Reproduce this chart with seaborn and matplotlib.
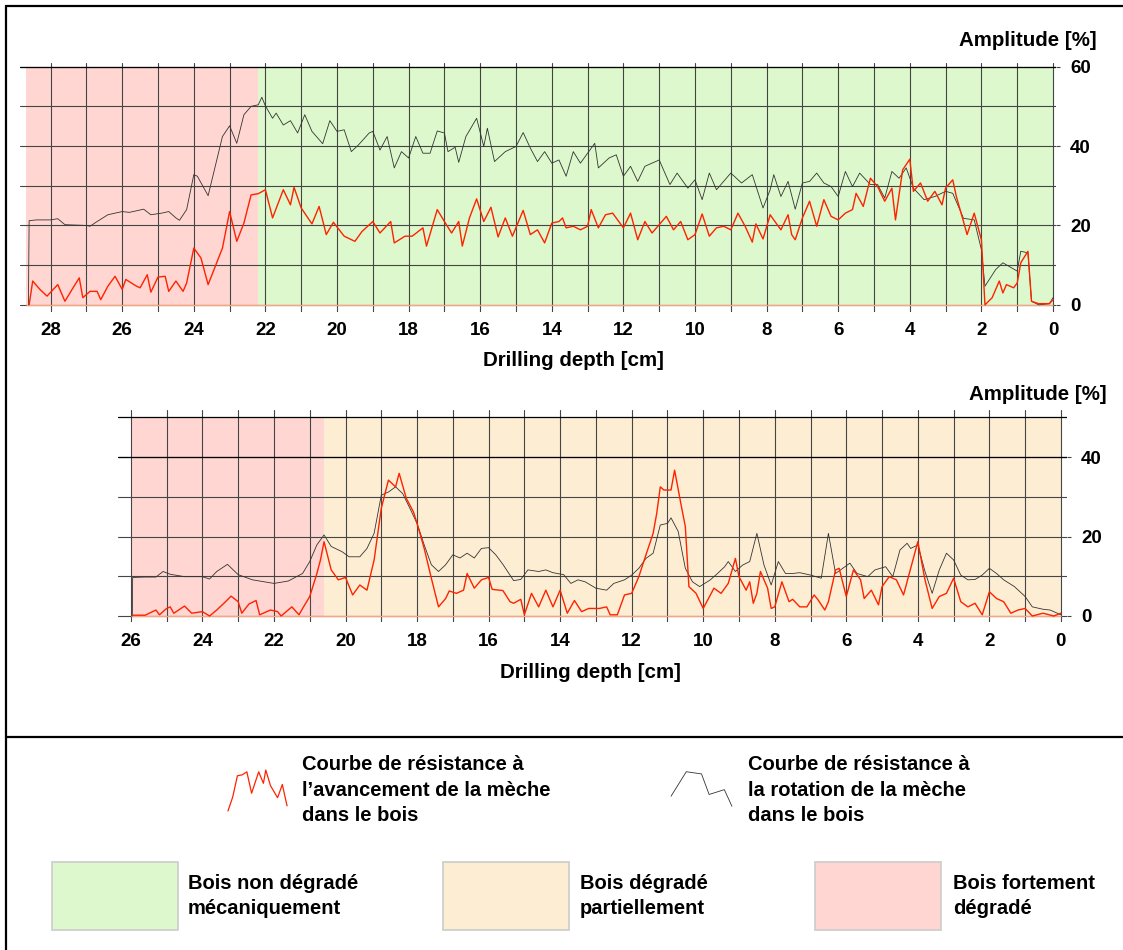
import matplotlib
matplotlib.use("Agg")
import matplotlib.pyplot as plt
import seaborn as sns
import numpy as np
from matplotlib.patches import Rectangle
from matplotlib.lines import Line2D

# ---------------- data ----------------
# Top chart: rotation resistance (black)
top_black_depth = [28.62, 28.6, 28.4, 28.0, 27.8, 27.6, 27.0, 26.9, 26.7, 26.4, 26.0, 25.8, 25.4, 25.2,
                   24.9, 24.7, 24.5, 24.4, 24.2, 24.0, 23.9, 23.6, 23.4, 23.2, 23.0, 22.8, 22.6, 22.4,
                   22.2, 22.1, 22.0, 21.8, 21.7, 21.5, 21.3, 21.1, 20.9, 20.7, 20.4, 20.2, 20.0, 19.8,
                   19.6, 19.4, 19.1, 19.0, 18.8, 18.6, 18.4, 18.2, 18.0, 17.8, 17.6, 17.4, 17.2, 17.0,
                   16.9, 16.7, 16.6, 16.4, 16.1, 15.9, 15.8, 15.6, 15.3, 15.0, 14.8, 14.6, 14.4, 14.2,
                   14.0, 13.8, 13.6, 13.4, 13.2, 12.8, 12.7, 12.4, 12.2, 12.0, 11.8, 11.6, 11.4, 11.0,
                   10.7, 10.5, 10.2, 10.0, 9.8, 9.6, 9.4, 9.0, 8.7, 8.4, 8.1, 7.9, 7.8, 7.6, 7.4, 7.2,
                   7.0, 6.8, 6.6, 6.4, 6.2, 6.0, 5.8, 5.6, 5.4, 5.1, 4.9, 4.7, 4.5, 4.3, 4.1, 3.9, 3.6,
                   3.3, 3.0, 2.8, 2.5, 2.2, 2.0, 1.9, 1.6, 1.4, 1.0, 0.9, 0.7, 0.6, 0.4, 0.1, 0.0]
top_black_amp = [0.0, 21.2, 21.4, 21.4, 21.7, 20.2, 20.0, 19.8, 21.0, 22.7, 23.5, 23.3, 24.1, 22.7,
                 23.1, 23.5, 21.9, 21.3, 24.0, 32.8, 32.4, 27.5, 34.9, 42.4, 45.1, 40.7, 47.9, 50.0,
                 50.4, 52.3, 50.1, 47.0, 48.3, 45.3, 46.4, 43.3, 47.9, 43.7, 40.6, 46.4, 43.7, 44.1,
                 38.6, 40.3, 43.3, 43.7, 39.0, 42.4, 34.5, 38.6, 37.0, 42.4, 38.2, 38.2, 43.8, 43.3,
                 38.6, 39.7, 35.9, 42.4, 47.0, 39.9, 44.5, 36.1, 38.6, 39.9, 43.4, 39.5, 36.1, 38.6,
                 35.7, 36.5, 32.4, 38.6, 35.7, 40.7, 34.5, 37.0, 37.8, 32.4, 34.9, 31.1, 34.9, 36.5,
                 30.3, 33.2, 29.4, 31.5, 26.5, 33.2, 29.0, 33.2, 30.7, 32.8, 24.4, 29.0, 32.8, 27.3,
                 31.1, 24.1, 30.7, 31.1, 33.2, 30.7, 29.8, 27.3, 33.6, 29.8, 33.2, 30.3, 30.3, 26.9,
                 33.6, 31.9, 34.5, 29.4, 26.5, 27.3, 28.6, 28.1, 21.8, 21.4, 13.9, 4.7, 8.9, 10.6,
                 8.5, 13.5, 13.1, 0.9, 0.0, 0.3, 1.8]

# Top chart: feed resistance (red)
top_red_depth = [28.6, 28.5, 28.3, 28.1, 27.8, 27.6, 27.4, 27.2, 27.1, 26.9, 26.7, 26.6, 26.4, 26.2,
                 26.0, 25.9, 25.6, 25.5, 25.3, 25.2, 25.0, 24.8, 24.7, 24.5, 24.3, 24.2, 24.0, 23.8,
                 23.6, 23.4, 23.2, 23.0, 22.8, 22.6, 22.4, 22.2, 22.0, 21.8, 21.5, 21.3, 21.2, 21.0,
                 20.7, 20.5, 20.3, 20.1, 19.8, 19.5, 19.3, 19.0, 18.8, 18.5, 18.4, 18.1, 17.9, 17.6,
                 17.5, 17.2, 17.0, 16.8, 16.6, 16.5, 16.3, 16.1, 15.9, 15.7, 15.5, 15.3, 15.1, 14.8,
                 14.6, 14.4, 14.2, 14.0, 13.8, 13.7, 13.6, 13.4, 13.2, 13.0, 12.9, 12.7, 12.5, 12.3,
                 12.0, 11.8, 11.6, 11.4, 11.2, 10.8, 10.6, 10.4, 10.2, 10.0, 9.8, 9.6, 9.4, 9.2, 9.0,
                 8.8, 8.6, 8.4, 8.3, 8.1, 7.9, 7.8, 7.6, 7.4, 7.3, 7.2, 7.0, 6.8, 6.6, 6.4, 6.2, 6.0,
                 5.8, 5.6, 5.5, 5.3, 5.1, 4.9, 4.7, 4.5, 4.4, 4.2, 4.0, 3.9, 3.7, 3.5, 3.3, 3.1, 3.0,
                 2.8, 2.7, 2.5, 2.4, 2.2, 2.0, 1.9, 1.8, 1.7, 1.5, 1.4, 1.3, 1.1, 1.0, 0.9, 0.7, 0.6,
                 0.4, 0.1, 0.0]
top_red_amp = [0.0, 6.0, 3.9, 2.2, 5.1, 0.9, 3.9, 6.8, 1.8, 3.4, 3.4, 1.3, 4.7, 7.2,
               3.9, 6.4, 4.7, 4.3, 7.6, 3.2, 7.0, 7.2, 3.4, 6.0, 3.4, 5.5, 14.3, 11.8,
               5.1, 9.7, 14.3, 23.5, 16.0, 20.6, 27.7, 28.0, 29.0, 21.9, 29.0, 25.2, 29.6, 24.4,
               20.4, 24.8, 17.7, 20.8, 17.3, 16.0, 18.5, 21.0, 18.1, 21.0, 15.6, 17.3, 17.3, 19.4,
               14.8, 24.0, 21.0, 18.1, 21.0, 14.8, 21.9, 26.7, 21.0, 24.6, 17.1, 21.9, 17.3, 23.8,
               17.7, 18.9, 15.6, 20.6, 21.0, 21.9, 19.4, 19.8, 18.9, 19.8, 24.0, 19.4, 22.7, 23.1,
               19.4, 23.1, 16.4, 21.0, 18.1, 22.3, 18.9, 21.0, 16.4, 17.7, 22.9, 17.3, 19.4, 19.8, 18.9,
               23.1, 19.8, 15.8, 20.4, 16.6, 22.7, 21.4, 18.9, 22.7, 17.7, 16.4, 21.9, 26.1, 19.8, 26.5, 22.3, 21.4,
               23.1, 24.0, 28.1, 24.8, 31.9, 29.8, 26.1, 29.4, 21.4, 34.0, 36.7, 28.6, 30.7, 26.1, 28.6, 25.2, 29.4,
               31.5, 27.3, 21.0, 17.7, 23.1, 16.4, 0.0, 0.9, 1.8, 6.0, 3.0, 5.1, 4.3, 5.5, 10.6, 13.5, 0.9,
               0.3, 0.3, 1.3]

# Bottom chart: rotation resistance (black)
bot_black_depth = [25.96, 25.95, 25.6, 25.3, 25.1, 24.9, 24.5, 24.0, 23.8, 23.6, 23.3, 23.0, 22.6, 22.0,
                   21.6, 21.2, 21.0, 20.8, 20.6, 20.4, 20.1, 19.9, 19.6, 19.4, 19.2, 19.0, 18.8, 18.6,
                   18.4, 18.2, 18.0, 17.8, 17.6, 17.4, 17.2, 17.0, 16.8, 16.6, 16.4, 16.2, 16.0, 15.8,
                   15.6, 15.3, 15.1, 14.9, 14.6, 14.4, 14.2, 13.9, 13.7, 13.5, 13.3, 13.0, 12.7, 12.5,
                   12.2, 12.0, 11.8, 11.6, 11.4, 11.2, 11.0, 10.9, 10.7, 10.5, 10.3, 10.1, 9.8, 9.6,
                   9.4, 9.3, 9.1, 8.9, 8.7, 8.5, 8.3, 8.1, 7.9, 7.7, 7.5, 7.3, 7.0, 6.7, 6.5, 6.3, 6.1,
                   5.9, 5.7, 5.4, 5.2, 4.9, 4.7, 4.5, 4.3, 4.2, 4.0, 3.8, 3.6, 3.4, 3.2, 3.0, 2.8, 2.6,
                   2.4, 2.2, 2.0, 1.8, 1.6, 1.3, 1.0, 0.8, 0.5, 0.3, 0.0]
bot_black_amp = [0.0, 9.7, 9.8, 9.8, 11.2, 10.5, 9.9, 9.9, 9.3, 11.2, 13.0, 10.4, 9.1, 8.2,
                 8.8, 10.7, 13.7, 17.9, 20.4, 17.5, 16.2, 14.9, 14.9, 17.0, 20.8, 30.4, 31.2, 32.5,
                 30.8, 27.1, 23.3, 17.9, 12.9, 11.2, 12.9, 15.4, 14.6, 15.8, 14.6, 17.0, 17.2, 15.4,
                 13.0, 8.9, 9.2, 11.6, 11.2, 11.6, 10.9, 10.4, 8.2, 9.1, 8.6, 7.0, 6.5, 8.2,
                 9.1, 10.3, 12.0, 14.5, 15.8, 22.9, 23.3, 24.7, 21.3, 12.0, 8.6, 7.4, 9.1, 10.7,
                 12.4, 13.7, 11.2, 12.8, 13.7, 20.8, 12.8, 7.8, 13.7, 10.7, 10.7, 10.9, 10.3, 9.5, 20.8, 10.7, 12.0,
                 13.3, 10.7, 9.9, 11.6, 12.4, 9.9, 16.6, 18.3, 17.0, 17.9, 11.2, 5.7, 11.6, 15.8, 14.1, 10.3, 9.1,
                 9.2, 10.3, 12.0, 10.7, 9.1, 7.4, 4.9, 2.3, 1.7, 1.5, 0.3]

# Bottom chart: feed resistance (red)
bot_red_depth = [25.95, 25.6, 25.3, 25.2, 25.0, 24.9, 24.8, 24.5, 24.3, 24.0, 23.8, 23.6, 23.4, 23.2,
                 23.0, 22.9, 22.7, 22.5, 22.4, 22.1, 21.9, 21.8, 21.5, 21.3, 21.2, 21.0, 20.8, 20.7,
                 20.6, 20.4, 20.2, 20.0, 19.8, 19.6, 19.4, 19.2, 19.0, 18.8, 18.6, 18.5, 18.3, 18.1,
                 18.0, 17.8, 17.6, 17.4, 17.2, 17.1, 16.9, 16.7, 16.6, 16.4, 16.2, 16.0, 15.9, 15.6,
                 15.4, 15.3, 15.1, 15.0, 14.8, 14.6, 14.4, 14.2, 14.0, 13.8, 13.6, 13.4, 13.2, 12.9,
                 12.7, 12.6, 12.4, 12.2, 12.0, 11.8, 11.6, 11.4, 11.3, 11.2, 11.1, 10.9, 10.8, 10.6,
                 10.5, 10.4, 10.2, 10.0, 9.9, 9.7, 9.5, 9.3, 9.1, 9.0, 8.8, 8.7, 8.6, 8.5, 8.4, 8.2,
                 8.1, 8.0, 7.8, 7.6, 7.5, 7.3, 7.1, 6.9, 6.8, 6.6, 6.5, 6.3, 6.2, 6.0, 5.8, 5.6, 5.5,
                 5.3, 5.1, 5.0, 4.8, 4.6, 4.4, 4.2, 4.0, 3.8, 3.6, 3.4, 3.2, 3.0, 2.8, 2.6, 2.4, 2.2,
                 2.0, 1.8, 1.6, 1.4, 1.2, 1.0, 0.8, 0.5, 0.2, 0.0]
bot_red_amp = [0.2, 0.2, 1.5, 0.3, 1.9, 2.3, 0.7, 2.5, 0.7, 1.1, 0.0, 1.5, 3.2, 5.0,
               3.6, 0.7, 3.0, 3.9, 0.3, 1.5, 1.1, 0.0, 2.3, 0.3, 1.9, 4.9, 10.7, 14.1,
               18.7, 11.6, 9.1, 9.7, 5.3, 7.8, 6.5, 14.1, 27.1, 34.2, 32.5, 35.9, 29.6, 26.2,
               23.3, 17.0, 9.5, 2.3, 4.4, 6.3, 5.7, 6.5, 10.7, 7.0, 9.1, 9.7, 6.7, 6.4,
               3.6, 3.2, 4.2, 0.3, 5.7, 2.3, 6.5, 2.3, 6.5, 0.7, 3.9, 1.1, 1.9, 1.9,
               2.3, 0.3, 0.3, 5.3, 5.7, 9.9, 15.4, 20.8, 25.8, 32.5, 31.7, 31.7, 36.7, 27.1,
               22.5, 7.4, 5.7, 1.9, 3.6, 7.0, 5.7, 8.2, 14.5, 9.9, 6.5, 8.6, 3.2, 5.7, 11.2, 7.0,
               1.9, 2.3, 8.6, 3.6, 4.2, 2.3, 2.3, 5.3, 4.2, 1.5, 3.6, 11.6, 12.0, 4.9, 11.6, 9.1, 4.4,
               6.5, 2.8, 7.4, 9.9, 9.1, 5.3, 12.0, 18.7, 9.1, 1.9, 4.9, 5.7, 9.5, 3.6, 2.3, 3.2, 0.3,
               6.1, 4.4, 3.6, 0.7, 1.5, 1.9, 0.0, 0.7, 0.0, 0.7]

# zones (start depth, end depth, category)
top_zones = [(28.7, 22.2, "fort"), (22.2, 0.0, "non")]
bot_zones = [(26.0, 20.6, "fort"), (20.6, 0.0, "partiel")]

zone_colors = {"non": "#DDF8CC", "partiel": "#FDEED3", "fort": "#FFD6D1"}
legend_zone_labels = [("non", "Bois non dégradé\nmécaniquement"),
                      ("partiel", "Bois dégradé\npartiellement"),
                      ("fort", "Bois fortement\ndégradé")]
curve_labels = ["Courbe de résistance à\nl\u2019avancement de la mèche\ndans le bois",
                "Courbe de résistance à\nla rotation de la mèche\ndans le bois"]

x_label = "Drilling depth [cm]"
y_label = "Amplitude [%]"

RED = "#FF2200"
BLACK = "#333333"
GRID = "#454545"
BASE = "#F4A582"

# ---------------- figure ----------------
sns.set_style("white")
plt.rcParams["font.family"] = ["Liberation Sans", "DejaVu Sans"]
plt.rcParams["font.weight"] = "bold"
plt.rcParams["text.color"] = "black"
plt.rcParams["xtick.color"] = "black"
plt.rcParams["ytick.color"] = "black"
plt.rcParams["xtick.labelcolor"] = "black"
plt.rcParams["ytick.labelcolor"] = "black"

W, H = 1123, 950
fig = plt.figure(figsize=(W / 100, H / 100), dpi=100)

TICK_FS = 13.5
TITLE_FS = 14.8
LEG_FS = 14.5


def fx(px):
    return px / W


def fy(py):
    return 1 - py / H


def setup_axes(ax, xmax_ticks, ymax, ymajor, zones, xpad):
    ax.set_xticks(np.arange(0, xmax_ticks + 1, 2))
    ax.set_xticks(np.arange(1, xmax_ticks + 1, 2), minor=True)
    ax.set_yticks(ymajor)
    ax.set_yticks(np.arange(10, ymax, 20), minor=True)
    ax.yaxis.tick_right()
    ax.grid(True, which="both", color=GRID, linewidth=0.8)
    ax.set_axisbelow("line")
    for s in ax.spines.values():
        s.set_visible(False)
    ax.tick_params(axis="x", which="both", length=0, pad=xpad, labelsize=TICK_FS)
    ax.tick_params(axis="y", which="major", length=3, width=0.8, color=GRID,
                   pad=7, labelsize=TICK_FS, right=True, left=False)
    ax.tick_params(axis="y", which="minor", length=0)
    for (a, b, c) in zones:
        ax.fill_between([a, b], 0, ymax, color=zone_colors[c], linewidth=0, zorder=0.2)
    ax.hlines(0, zones[0][0], zones[-1][1], color=BASE, linewidth=1.0, zorder=1.8)
    ax.axhline(ymax, color="black", linewidth=0.9, zorder=1.7)
    ax.set_xlabel("")
    ax.set_ylabel("")


# top chart
ax1 = fig.add_axes([fx(20), fy(312), fx(1056 - 20), (312 - 63.5) / H])
setup_axes(ax1, 28, 60, [0, 20, 40, 60], top_zones, 7.5)
sns.lineplot(x=top_black_depth, y=top_black_amp, ax=ax1, color=BLACK, linewidth=0.6,
             sort=False, estimator=None, zorder=3)
sns.lineplot(x=top_red_depth, y=top_red_amp, ax=ax1, color=RED, linewidth=1.0,
             sort=False, estimator=None, zorder=4)
ax1.set_xlim(28.855, -0.084)
ax1.set_ylim(-1.8, 60.8)

# bottom chart
ax2 = fig.add_axes([fx(118), fy(622), fx(1067 - 118), (622 - 410) / H])
setup_axes(ax2, 26, 50, [0, 20, 40], bot_zones, 8)
sns.lineplot(x=bot_black_depth, y=bot_black_amp, ax=ax2, color=BLACK, linewidth=0.6,
             sort=False, estimator=None, zorder=3)
sns.lineplot(x=bot_red_depth, y=bot_red_amp, ax=ax2, color=RED, linewidth=1.0,
             sort=False, estimator=None, zorder=4)
ax2.axhline(40, color="black", linewidth=0.9, zorder=1.7)
ax2.set_xlim(26.36, -0.17)
ax2.set_ylim(-1.51, 51.84)

for ax in (ax1, ax2):
    for lab in ax.get_xticklabels() + ax.get_yticklabels():
        lab.set_fontweight("bold")

# axis titles
fig.text(fx(1097), fy(40), y_label, ha="right", va="center", fontsize=TITLE_FS, fontweight="bold")
fig.text(fx(573), fy(360), x_label, ha="center", va="center", fontsize=TITLE_FS, fontweight="bold")
fig.text(fx(1107), fy(394), y_label, ha="right", va="center", fontsize=TITLE_FS, fontweight="bold")
fig.text(fx(590), fy(672), x_label, ha="center", va="center", fontsize=TITLE_FS, fontweight="bold")

# frame and divider
fig.add_artist(Line2D([fx(6), fx(6)], [0, fy(6)], color="black", linewidth=1.6))
fig.add_artist(Line2D([fx(6), 1], [fy(6), fy(6)], color="black", linewidth=1.6))
fig.add_artist(Line2D([fx(6), 1], [fy(737), fy(737)], color="black", linewidth=1.6))

# curve legend icons (slices of the measured curves)
axr = fig.add_axes([fx(225), fy(813), fx(65), 45 / H])
sl = slice(top_red_depth.index(22.8), top_red_depth.index(20.3) + 1)
sns.lineplot(x=top_red_depth[sl], y=top_red_amp[sl], ax=axr, color=RED, linewidth=0.9,
             sort=False, estimator=None)
axr.invert_xaxis()
axr.axis("off")

axb = fig.add_axes([fx(668), fy(808), fx(67), 38 / H])
sl = slice(top_black_depth.index(17.4), top_black_depth.index(16.6) + 1)
sns.lineplot(x=top_black_depth[sl], y=top_black_amp[sl], ax=axb, color=BLACK, linewidth=0.6,
             sort=False, estimator=None)
axb.invert_xaxis()
axb.axis("off")

fig.text(fx(302), fy(790), curve_labels[0], ha="left", va="center", fontsize=LEG_FS,
         fontweight="bold", linespacing=1.45)
fig.text(fx(748), fy(790), curve_labels[1], ha="left", va="center", fontsize=LEG_FS,
         fontweight="bold", linespacing=1.45)

# zone legend boxes
box_x = [52, 443, 815]
text_x = [188, 580, 953]
for (key, lab), bx, tx in zip(legend_zone_labels, box_x, text_x):
    fig.add_artist(Rectangle((fx(bx), fy(930)), fx(126), 68 / H, transform=fig.transFigure,
                             facecolor=zone_colors[key], edgecolor="#CCCCCC", linewidth=1.2))
    fig.text(fx(tx), fy(896), lab, ha="left", va="center", fontsize=LEG_FS,
             fontweight="bold", linespacing=1.45)

fig.savefig("out.png", dpi=100)
